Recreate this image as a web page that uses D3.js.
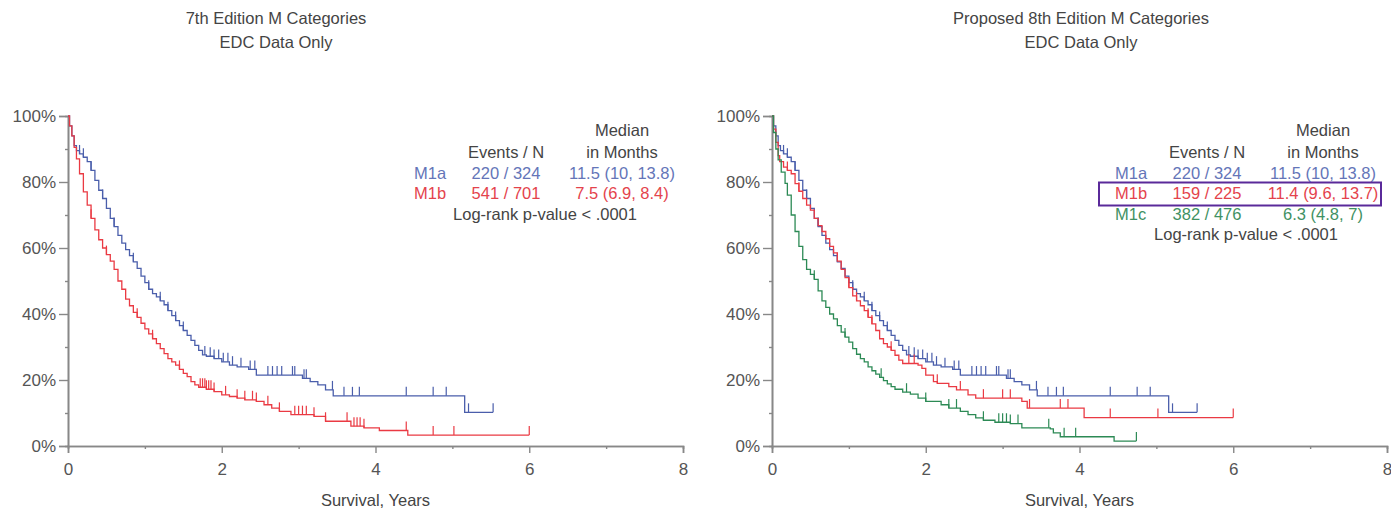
<!DOCTYPE html>
<html><head><meta charset="utf-8">
<script src="https://cdn.jsdelivr.net/npm/d3@7"></script>
<style>body{margin:0;background:#fff}svg{display:block}text{font-family:"Liberation Sans",Arial,sans-serif}</style>
</head><body>
<svg id="c" width="1391" height="510"></svg>
<script>
// ---- data ----
const yTicks = [0, 0.2, 0.4, 0.6, 0.8, 1.0];
const xTicks = [0, 2, 4, 6, 8];
const panelTitles = [["7th Edition M Categories","EDC Data Only"],["Proposed 8th Edition M Categories","EDC Data Only"]];
const xLabel = "Survival, Years";

const m1a = [[0,1],[0.02,0.97],[0.05,0.94],[0.08,0.91],[0.11,0.895],[0.15,0.885],[0.2,0.875],[0.25,0.862],[0.3,0.835],[0.35,0.805],[0.4,0.775],[0.45,0.75],[0.5,0.72],[0.55,0.69],[0.6,0.665],[0.65,0.638],[0.7,0.615],[0.75,0.595],[0.8,0.577],[0.85,0.558],[0.9,0.538],[0.95,0.515],[1.0,0.495],[1.05,0.475],[1.1,0.462],[1.15,0.452],[1.2,0.44],[1.25,0.428],[1.3,0.41],[1.35,0.395],[1.4,0.38],[1.45,0.365],[1.5,0.35],[1.55,0.335],[1.6,0.32],[1.65,0.305],[1.7,0.29],[1.75,0.276],[1.8,0.272],[1.9,0.265],[2.0,0.255],[2.1,0.245],[2.2,0.24],[2.35,0.232],[2.45,0.215],[3.05,0.205],[3.15,0.195],[3.25,0.185],[3.35,0.17],[3.45,0.152],[5.16,0.102],[5.53,0.102]];
const m1aCens = [0.15,0.2,0.3,0.45,0.6,0.85,1.05,1.2,1.3,1.4,1.5,1.78,1.85,1.9,1.96,2.02,2.08,2.14,2.25,2.37,2.43,2.6,2.66,2.72,2.78,2.92,2.95,3.07,3.1,3.44,3.59,3.7,3.79,4.4,4.75,4.92,5.21,5.53];

const m1b7 = [[0,1],[0.02,0.97],[0.05,0.94],[0.08,0.905],[0.11,0.87],[0.15,0.825],[0.2,0.77],[0.25,0.73],[0.3,0.69],[0.35,0.655],[0.4,0.625],[0.45,0.60],[0.5,0.58],[0.55,0.56],[0.6,0.535],[0.65,0.50],[0.7,0.475],[0.75,0.445],[0.8,0.425],[0.85,0.405],[0.9,0.39],[0.95,0.372],[1.0,0.355],[1.05,0.34],[1.1,0.325],[1.15,0.31],[1.2,0.295],[1.25,0.28],[1.3,0.265],[1.35,0.255],[1.4,0.245],[1.45,0.232],[1.5,0.22],[1.55,0.21],[1.6,0.195],[1.65,0.185],[1.7,0.178],[1.8,0.172],[1.9,0.165],[2.0,0.155],[2.1,0.15],[2.2,0.145],[2.3,0.14],[2.45,0.135],[2.55,0.125],[2.65,0.115],[2.75,0.105],[2.9,0.095],[3.2,0.09],[3.35,0.075],[3.68,0.06],[3.85,0.055],[4.05,0.047],[4.42,0.033],[6.0,0.033]];
const m1b7Cens = [0.3,0.5,0.9,1.1,1.45,1.72,1.75,1.78,1.8,1.83,1.86,1.9,2.05,2.2,2.3,2.4,2.45,2.6,2.75,2.95,3.0,3.05,3.1,3.2,3.35,3.63,3.72,3.76,3.8,3.85,4.4,4.75,5.02,6.0];

const m1b8 = [[0,1],[0.02,0.96],[0.05,0.92],[0.08,0.88],[0.1,0.862],[0.15,0.845],[0.2,0.835],[0.25,0.825],[0.3,0.795],[0.35,0.772],[0.4,0.75],[0.45,0.73],[0.5,0.715],[0.55,0.69],[0.6,0.668],[0.65,0.65],[0.7,0.628],[0.75,0.605],[0.8,0.585],[0.85,0.56],[0.9,0.535],[0.95,0.51],[1.0,0.48],[1.05,0.455],[1.1,0.44],[1.15,0.425],[1.2,0.41],[1.25,0.39],[1.3,0.37],[1.35,0.35],[1.4,0.325],[1.45,0.31],[1.5,0.30],[1.55,0.29],[1.6,0.275],[1.65,0.26],[1.7,0.25],[1.8,0.25],[1.9,0.245],[1.95,0.235],[2.0,0.215],[2.1,0.195],[2.15,0.19],[2.3,0.18],[2.4,0.17],[2.55,0.155],[2.65,0.145],[3.25,0.135],[3.32,0.115],[4.06,0.086],[6.0,0.086]];
const m1b8Cens = [0.2,0.35,1.0,1.1,1.25,1.3,1.55,1.78,1.85,2.15,2.45,2.75,3.0,3.1,3.35,3.75,3.85,4.4,5.02,6.0];

const m1c = [[0,1],[0.02,0.95],[0.05,0.9],[0.08,0.867],[0.12,0.83],[0.17,0.796],[0.2,0.76],[0.25,0.70],[0.3,0.65],[0.35,0.605],[0.4,0.565],[0.45,0.535],[0.5,0.52],[0.55,0.505],[0.6,0.47],[0.65,0.44],[0.7,0.42],[0.75,0.40],[0.8,0.385],[0.85,0.365],[0.9,0.345],[0.95,0.33],[1.0,0.315],[1.05,0.295],[1.1,0.278],[1.15,0.265],[1.2,0.255],[1.25,0.24],[1.3,0.228],[1.35,0.218],[1.4,0.208],[1.45,0.198],[1.5,0.188],[1.55,0.18],[1.6,0.172],[1.7,0.163],[1.8,0.157],[1.9,0.145],[2.0,0.135],[2.2,0.125],[2.3,0.115],[2.45,0.105],[2.55,0.095],[2.65,0.085],[2.75,0.078],[2.9,0.072],[3.1,0.068],[3.25,0.055],[3.62,0.052],[3.66,0.04],[3.75,0.028],[4.45,0.015],[4.74,0.015]];
const m1cCens = [0.55,0.95,1.42,1.75,2.0,2.3,2.4,2.75,2.95,3.0,3.05,3.1,3.2,3.6,3.8,3.95,4.74];

const legend7 = [["M1a","220 / 324","11.5 (10, 13.8)"],["M1b","541 / 701","7.5 (6.9, 8.4)"]];
const legend8 = [["M1a","220 / 324","11.5 (10, 13.8)"],["M1b","159 / 225","11.4 (9.6, 13.7)"],["M1c","382 / 476","6.3 (4.8, 7)"]];
const pText = "Log-rank p-value < .0001";

// ---- styles ----
const col = {blue:"#4a5eab", red:"#ea3a43", green:"#2c8a55"};
const txtCol = {blue:"#6475b8", red:"#e4434c", green:"#3f9163"};
const FS = 16.5;

const svg = d3.select("#c");
const panels = [
  {x0:68, title:panelTitles[0], tcx:276, series:[{d:m1a,c:m1aCens,k:"blue"},{d:m1b7,c:m1b7Cens,k:"red"}], leg:legend7, keys:["blue","red"],
   lx:{lab:414, ev:506, med:622, p:545}, highlight:null},
  {x0:772, title:panelTitles[1], tcx:1081, series:[{d:m1a,c:m1aCens,k:"blue"},{d:m1b8,c:m1b8Cens,k:"red"},{d:m1c,c:m1cCens,k:"green"}], leg:legend8, keys:["blue","red","green"],
   lx:{lab:1115, ev:1207, med:1323, p:1246}, highlight:1}
];

panels.forEach(p => {
  const x = d3.scaleLinear().domain([0,8]).range([p.x0, p.x0+615]);
  const y = d3.scaleLinear().domain([0,1]).range([446,116]);
  const g = svg.append("g");

  // titles
  g.append("text").attr("x",p.tcx).attr("y",24).attr("text-anchor","middle").attr("font-size",FS).attr("fill","#444").text(p.title[0]);
  g.append("text").attr("x",p.tcx).attr("y",48).attr("text-anchor","middle").attr("font-size",FS).attr("fill","#444").text(p.title[1]);

  // axes
  g.append("g").attr("transform",`translate(${p.x0},0)`)
    .call(d3.axisLeft(y).tickValues(yTicks).tickFormat(d3.format(".0%")).tickSize(9).tickPadding(3));
  g.append("g").attr("transform",`translate(${p.x0},0)`)
    .call(d3.axisLeft(y).tickValues(d3.range(0.1,1,0.2)).tickFormat("").tickSize(3));
  const xAx = g.append("g").attr("transform","translate(0,446)")
    .call(d3.axisBottom(x).tickValues(xTicks).tickSize(7).tickPadding(10));
  g.append("g").attr("transform","translate(0,446)")
    .call(d3.axisBottom(x).tickValues([1,3,5,7]).tickFormat("").tickSize(3));
  g.selectAll(".domain").attr("stroke","#888").attr("stroke-width",1.6);
  g.selectAll(".tick line").attr("stroke","#888").attr("stroke-width",1.4);
  g.selectAll(".tick text").attr("fill","#555").attr("font-size",17).attr("font-family","Liberation Sans, Arial, sans-serif");

  g.append("text").attr("x",(p.x0+p.x0+615)/2).attr("y",506).attr("text-anchor","middle").attr("font-size",FS).attr("fill","#444").text(xLabel);

  // curves
  const line = d3.line().x(d=>x(d[0])).y(d=>y(d[1])).curve(d3.curveStepAfter);
  p.series.forEach(s => {
    g.append("path").attr("d",line(s.d)).attr("fill","none").attr("stroke",col[s.k]).attr("stroke-width",1.3);
    const sAt = t => { let v = s.d[0][1]; for (const q of s.d) { if (q[0] <= t) v = q[1]; else break; } return v; };
    g.selectAll(null).data(s.c).join("line")
      .attr("x1",d=>x(d)).attr("x2",d=>x(d))
      .attr("y1",d=>y(sAt(d))).attr("y2",d=>y(sAt(d))-9)
      .attr("stroke",col[s.k]).attr("stroke-width",1.2);
  });

  // legend
  const L = g.append("g").attr("font-size",FS);
  L.append("text").attr("x",p.lx.med).attr("y",136).attr("text-anchor","middle").attr("fill","#444").text("Median");
  L.append("text").attr("x",p.lx.med).attr("y",158).attr("text-anchor","middle").attr("fill","#444").text("in Months");
  L.append("text").attr("x",p.lx.ev).attr("y",158).attr("text-anchor","middle").attr("fill","#444").text("Events / N");
  p.leg.forEach((r,i) => {
    const yy = 178.5 + i*20.5;
    const c = txtCol[p.keys[i]];
    L.append("text").attr("x",p.lx.lab).attr("y",yy).attr("fill",c).text(r[0]);
    L.append("text").attr("x",p.lx.ev).attr("y",yy).attr("text-anchor","middle").attr("fill",c).text(r[1]);
    L.append("text").attr("x",p.lx.med).attr("y",yy).attr("text-anchor","middle").attr("fill",c).text(r[2]);
  });
  const py = 178.5 + p.leg.length*20.5;
  L.append("text").attr("x",p.lx.p).attr("y",py).attr("text-anchor","middle").attr("fill","#444").text(pText);
  if (p.highlight !== null) {
    const yy = 178.5 + p.highlight*20.5;
    g.append("rect").attr("x",1099).attr("y",yy-16.5).attr("width",282).attr("height",23)
      .attr("fill","none").attr("stroke","#5a2a9a").attr("stroke-width",2);
  }
});
</script>
</body></html>
